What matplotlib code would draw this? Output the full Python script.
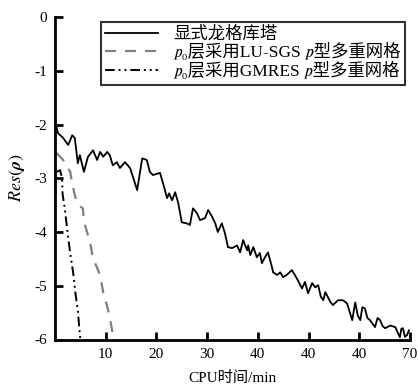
import matplotlib
matplotlib.use("Agg")
import matplotlib.pyplot as plt

plt.rcParams['font.family'] = ['Liberation Serif', 'STIXGeneral', 'Noto Sans CJK SC']
plt.rcParams['mathtext.fontset'] = 'stix'
plt.rcParams['axes.unicode_minus'] = False

# 显式龙格库塔
x_rk = [0.2, 0.6, 1.6, 2.6, 3.4, 3.9, 4.5, 4.9, 5.7, 6.5, 7.5, 8.3, 8.9, 9.5,
        10.3, 10.8, 11.4, 12.2, 12.8, 13.8, 14.8, 16.2, 17.2, 18.1, 18.7, 19.3,
        20.7, 21.3, 22.1, 22.5, 23.1, 23.7, 24.3, 25.0, 26.0, 26.6, 27.2, 28.0,
        28.6, 29.6, 30.2, 31.0, 31.6, 32.1, 32.9, 33.5, 34.1, 34.9, 35.9, 36.5,
        37.1, 37.5, 37.9, 38.1, 38.5, 39.1, 39.8, 40.4, 40.8, 41.4, 42.0, 42.8,
        43.0, 43.8, 44.4, 45.0, 45.8, 46.7, 47.3, 47.9, 48.7, 49.3, 49.9, 50.7,
        51.3, 51.9, 52.4, 52.9, 53.3, 53.8, 54.3, 54.8, 55.8, 56.8, 57.6, 58.6,
        59.2, 59.7, 60.2, 60.6, 61.1, 61.6, 62.1, 63.1, 63.6, 64.1, 64.6, 65.1,
        66.1, 67.1, 68.0, 68.3, 68.6, 69.0, 69.4, 69.8]
y_rk = [-2.01, -2.16, -2.25, -2.38, -2.20, -2.25, -2.72, -2.57, -2.88, -2.60,
        -2.48, -2.66, -2.51, -2.60, -2.51, -2.57, -2.76, -2.70, -2.81, -2.70,
        -2.81, -3.22, -2.63, -2.66, -2.88, -2.94, -2.90, -3.09, -3.37, -3.28,
        -3.41, -3.26, -3.46, -3.82, -3.84, -3.87, -3.56, -3.65, -3.78, -3.74,
        -3.59, -3.72, -3.84, -4.00, -3.84, -4.02, -4.28, -4.30, -4.25, -4.38,
        -4.15, -4.25, -4.34, -4.25, -4.43, -4.28, -4.47, -4.39, -4.58, -4.47,
        -4.38, -4.66, -4.75, -4.80, -4.75, -4.84, -4.79, -4.71, -4.80, -4.90,
        -5.05, -4.93, -5.14, -4.95, -5.03, -4.99, -5.20, -5.27, -5.12, -5.21,
        -5.30, -5.36, -5.27, -5.27, -5.33, -5.64, -5.31, -5.55, -5.64, -5.40,
        -5.42, -5.60, -5.64, -5.77, -5.60, -5.64, -5.75, -5.79, -5.74, -5.77,
        -5.96, -5.80, -5.79, -5.95, -5.92, -5.83]

# p0层采用LU-SGS p型多重网格
x_lusgs = [0.3, 1.0, 1.6, 3.0, 3.5, 4.0, 4.6, 5.5, 5.7, 6.9, 7.5, 8.9, 9.5,
           10.5, 11.2, 11.5]
y_lusgs = [-2.53, -2.60, -2.66, -2.88, -3.15, -3.35, -3.50, -3.56, -3.80,
           -4.19, -4.49, -4.80, -5.12, -5.46, -5.79, -6.00]

# p0层采用GMRES p型多重网格
x_gmres = [0.3, 1.0, 1.4, 1.5, 1.9, 2.4, 3.0, 3.6, 4.0, 4.5, 4.9, 5.0]
y_gmres = [-2.88, -2.85, -3.00, -3.30, -3.54, -3.95, -4.40, -4.77, -5.12,
           -5.46, -5.90, -6.00]

xticks = [10, 20, 30, 40, 50, 60, 70]
xticklabels = ['10', '20', '30', '40', '40', '40', '70']
yticks = [0, -1, -2, -3, -4, -5, -6]

# 𝑝 = math italic p, ₀ = subscript 0 (drawn from STIXGeneral)
labels = ['显式龙格库塔',
          '𝑝₀层采用LU-SGS 𝑝型多重网格',
          '𝑝₀层采用GMRES 𝑝型多重网格']

fig = plt.figure(figsize=(4.18, 3.89), dpi=100)
ax = fig.add_axes([55 / 418, 49.5 / 389, 355 / 418, 322.5 / 389])

ax.plot(x_rk, y_rk, '-', color='black', lw=1.3, label=labels[0])
ax.plot(x_lusgs, y_lusgs, '--', color='#808080', lw=1.6, dashes=(5, 4),
        label=labels[1])
ax.plot(x_gmres, y_gmres, '-.', color='black', lw=1.4,
        dashes=(5, 2, 1, 2, 1, 2), label=labels[2])

ax.set_xlim(0, 70)
ax.set_ylim(-6, 0)
ax.set_xticks(xticks)
ax.set_xticklabels(xticklabels)
ax.set_yticks(yticks)
ax.tick_params(direction='in', length=6, width=2, labelsize=11, pad=6)
for s in ['top', 'right']:
    ax.spines[s].set_visible(False)
for s in ['left', 'bottom']:
    ax.spines[s].set_linewidth(2)

ax.set_xlabel('CPU时间/min', fontsize=11, labelpad=7)
ax.set_ylabel(r'$Res(\boldsymbol{\rho})$', fontsize=13, labelpad=5)

leg = ax.legend(loc='upper right', bbox_to_anchor=(405 / 418, 1 - 22 / 389),
                bbox_transform=fig.transFigure, borderaxespad=0,
                fontsize=12.5, frameon=True, fancybox=False, handlelength=3.0,
                labelspacing=0.05, borderpad=0.25, handletextpad=0.9)
leg.get_frame().set_edgecolor('black')
leg.get_frame().set_linewidth(1.5)

fig.savefig('out.png', dpi=100)
